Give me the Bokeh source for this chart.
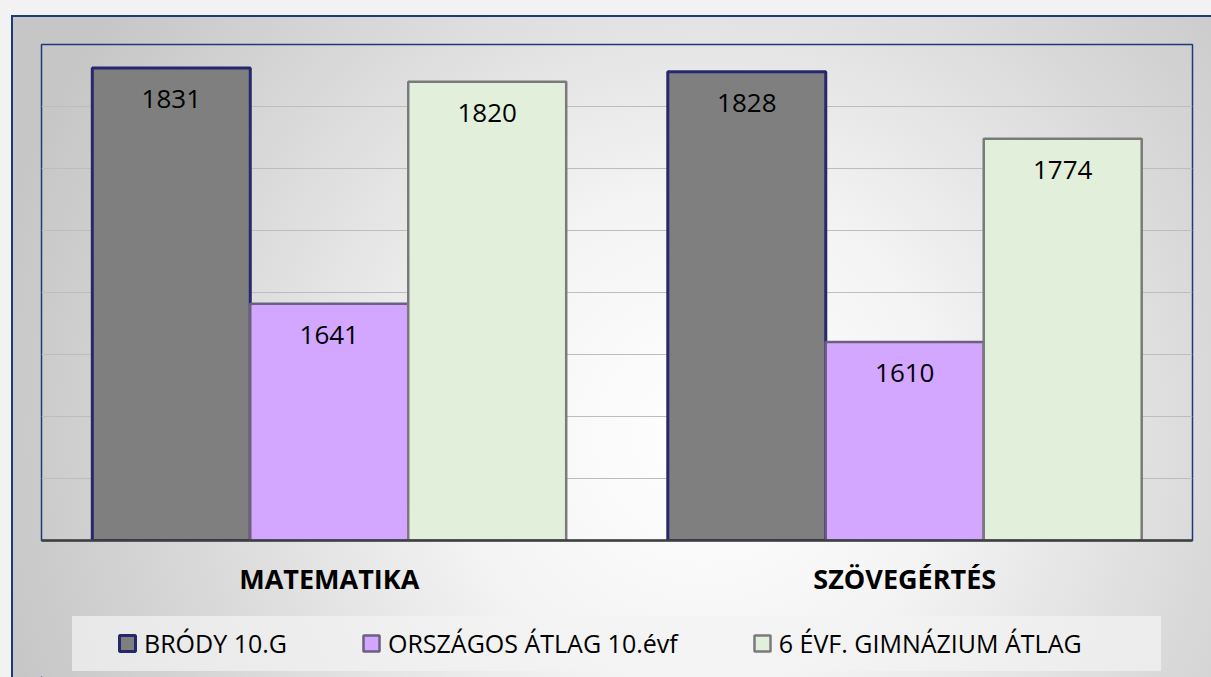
from bokeh.plotting import figure
from bokeh.layouts import column
from bokeh.models import (ColumnDataSource, FactorRange, Range1d, SingleIntervalTicker,
                          Legend, LegendItem)
from bokeh.transform import dodge
from bokeh.core.properties import value
from bokeh.embed import file_html
from bokeh.resources import INLINE

# ---- data ----
categories = ["MATEMATIKA", "SZÖVEGÉRTÉS"]
series_names = ["BRÓDY 10.G", "ORSZÁGOS ÁTLAG 10.évf", "6 ÉVF. GIMNÁZIUM ÁTLAG"]
brody = [1831, 1828]
orszagos = [1641, 1610]
gimnazium = [1820, 1774]
y_min, y_max, y_step = 1450, 1850, 50

source = ColumnDataSource(dict(
    cat=categories,
    brody=brody, orszagos=orszagos, gimnazium=gimnazium,
    brody_lbl=[str(v) for v in brody],
    orszagos_lbl=[str(v) for v in orszagos],
    gimnazium_lbl=[str(v) for v in gimnazium],
))

bg = ("linear-gradient(rgba(243,243,243,0.72), rgba(243,243,243,0.72)) 72px 616px / 1089px 55px no-repeat, "
      "radial-gradient(circle 730px at 690px 420px, #FFFFFF 0%, #F4F4F4 33%, #D8D8D8 72%, #C6C6C6 100%) 13px 17px / 100% 100% no-repeat, "
      "linear-gradient(#1F3A7A, #1F3A7A) 11px 15px / 100% 100% no-repeat, #F2F2F2")

p = figure(x_range=FactorRange(*categories), y_range=Range1d(y_min, y_max),
           width=1211, height=616, output_backend="svg", toolbar_location=None,
           min_border_left=41, min_border_right=19, min_border_top=44, min_border_bottom=76)
p.border_fill_color = None
p.background_fill_color = None
p.outline_line_color = "#1F3A7A"
p.outline_line_width = 1.5

bw = 0.2745
specs = [
    ("brody", -bw, "#7F7F7F", "#27276E", 3),
    ("orszagos", 0.0, "#D3A6FF", "#6C6080", 2.5),
    ("gimnazium", bw, "#E2EFDA", "#7A7A7A", 2.5),
]
for col, off, fill, line, lw in specs:
    p.vbar(x=dodge("cat", off, range=p.x_range), top=col, bottom=y_min, width=bw,
           source=source, fill_color=fill, line_color=line, line_width=lw)
    p.text(x=dodge("cat", off, range=p.x_range), y=col, text=col + "_lbl", source=source,
           y_offset=31, text_align="center", text_baseline="middle",
           text_font=value("Open Sans"), text_font_size="26px", text_color="#000000")

# axes & grid
p.yaxis.visible = False
p.ygrid.ticker = SingleIntervalTicker(interval=y_step)
p.ygrid.grid_line_color = "#BDBDBD"
p.ygrid.grid_line_width = 1.2
p.xgrid.grid_line_color = None

p.xaxis.axis_line_color = "#3F3F3F"
p.xaxis.axis_line_width = 2.5
p.xaxis.major_tick_line_color = None
p.xaxis.minor_tick_line_color = None
p.xaxis.major_label_text_font = "Open Sans"
p.xaxis.major_label_text_font_style = "bold"
p.xaxis.major_label_text_font_size = "27px"
p.xaxis.major_label_text_color = "#000000"
p.xaxis.major_label_standoff = 13

# ---- legend strip (separate figure below the chart) ----
lp = figure(x_range=Range1d(0, 1), y_range=Range1d(0, 1), width=1211, height=61,
            output_backend="svg", toolbar_location=None,
            min_border=0, min_border_left=0, min_border_right=0, min_border_top=0, min_border_bottom=0)
lp.axis.visible = False
lp.grid.visible = False
lp.outline_line_color = None
lp.border_fill_color = None
lp.background_fill_color = None

# legend key renderers (placed outside the visible range; only their style is shown in the legend)
items = []
for name, (col, off, fill, line, lw) in zip(series_names, specs):
    r = lp.vbar(x=[-5], top=[-5], bottom=[-6], width=0.1,
                fill_color=fill, line_color=line, line_width=lw)
    items.append(LegendItem(label=name, renderers=[r]))

legend = Legend(items=items, location=(76, 17), orientation="horizontal",
                padding=0, spacing=74, margin=0,
                border_line_color=None, background_fill_alpha=0,
                label_text_font="Open Sans", label_text_font_size="25px",
                label_text_color="#000000",
                glyph_width=20, glyph_height=20, label_standoff=7)
lp.add_layout(legend)

layout = column(p, lp, spacing=0, styles={"background": bg})

open("out.html", "w").write(file_html(layout, INLINE))
